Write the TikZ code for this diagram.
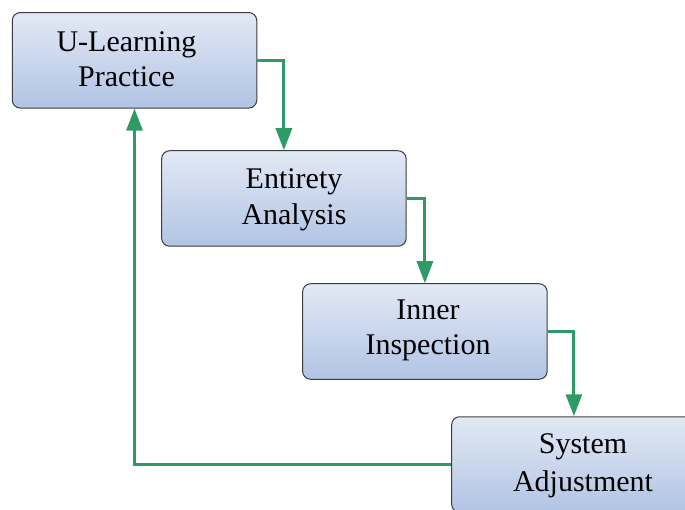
\documentclass[tikz,border=0pt]{standalone}
\usepackage{fontspec}
\setmainfont{Liberation Serif}
\usetikzlibrary{arrows.meta}
\definecolor{boxtop}{RGB}{226,233,245}
\definecolor{boxbot}{RGB}{177,196,228}
\definecolor{boxedge}{RGB}{60,60,60}
\definecolor{conngreen}{RGB}{46,155,102}
\tikzset{
  procbox/.style={draw=boxedge, line width=1pt, rounded corners=8pt,
    top color=boxtop, bottom color=boxbot,
    minimum width=244.5pt, minimum height=95.5pt, inner sep=0pt},
  label/.style={anchor=base, inner sep=0pt, font=\fontsize{30}{36}\selectfont},
  conn/.style={draw=conngreen, line width=3pt,
    -{Triangle[width=16pt,length=22pt]}}
}
\begin{document}
\begin{tikzpicture}[x=1pt,y=-1pt]
\useasboundingbox (0,0) rectangle (685,510);
\clip (0,0) rectangle (685,510);
\node[procbox] (b1) at (134.5,60.3) {};
\node[procbox] (b2) at (283.9,198.5) {};
\node[procbox] (b3) at (424.9,331.5) {};
\node[procbox] (b4) at (573.9,464.5) {};
\node[label] (t1a) at (126.5,52) {U-Learning};
\node[label] (t1b) at (126.5,87) {Practice};
\node[label] (t2a) at (294,189) {Entirety};
\node[label] (t2b) at (294,225) {Analysis};
\node[label] (t3a) at (428,320) {Inner};
\node[label] (t3b) at (428,355) {Inspection};
\node[label] (t4a) at (583,453) {System};
\node[label] (t4b) at (583,491) {Adjustment};
\draw[conn] (b1.east) -| (b2.north);
\draw[conn] (b2.east) -| (b3.north);
\draw[conn] (b3.east) -| (b4.north);
\draw[conn] (b4.west) -| (b1.south);
\end{tikzpicture}
\end{document}
